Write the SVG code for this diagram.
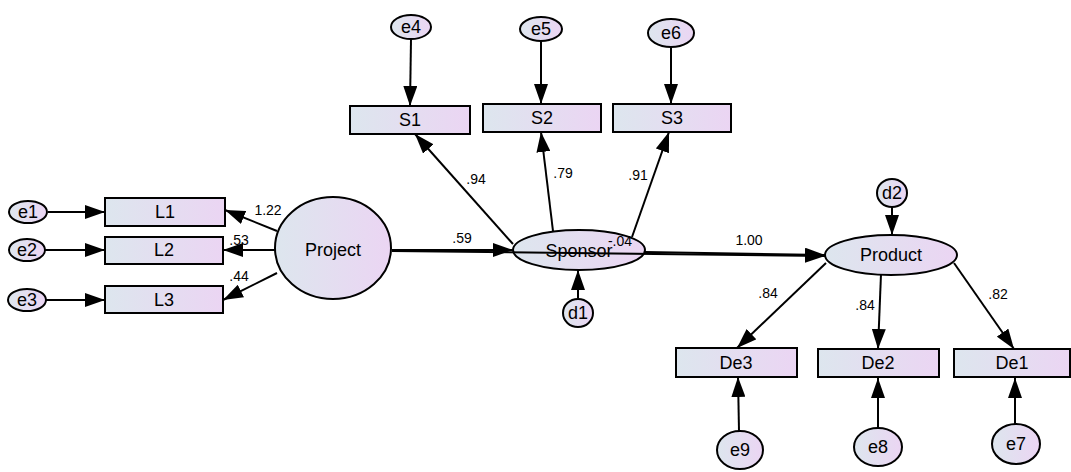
<svg xmlns="http://www.w3.org/2000/svg" width="1071" height="472" viewBox="0 0 1071 472">
<style>
.n{fill:url(#g);stroke:#000;stroke-width:2}
.t{font-family:"Liberation Sans",Arial,sans-serif;font-size:18px;fill:#000;text-anchor:middle;dominant-baseline:central}
.l{font-family:"Liberation Sans",Arial,sans-serif;font-size:14px;fill:#000;text-anchor:middle}
.c line{stroke:#000;stroke-width:2;fill:none}
</style>
<defs>
<linearGradient id="g" x1="0" y1="0" x2="1" y2="0">
<stop offset="0" stop-color="#dde6ee"/>
<stop offset="1" stop-color="#ebd5f3"/>
</linearGradient>
<marker id="a" viewBox="0 0 20 14" refX="20" refY="7" markerWidth="20" markerHeight="14" markerUnits="userSpaceOnUse" orient="auto">
<path d="M0,0 L20,7 L0,14 z" fill="#000"/>
</marker>
</defs>
<rect width="1071" height="472" fill="#fff"/>
<g id="connectors" class="c">
<line x1="48" y1="212" x2="105" y2="212" marker-end="url(#a)"/>
<line x1="45" y1="250" x2="105" y2="250" marker-end="url(#a)"/>
<line x1="46" y1="300" x2="105" y2="300" marker-end="url(#a)"/>
<line x1="277" y1="231" x2="225" y2="210" marker-end="url(#a)"/>
<line x1="275" y1="250" x2="223" y2="250" marker-end="url(#a)"/>
<line x1="277" y1="273" x2="223" y2="300" marker-end="url(#a)"/>
<line x1="411" y1="39" x2="410" y2="106" marker-end="url(#a)"/>
<line x1="541" y1="41" x2="541" y2="104" marker-end="url(#a)"/>
<line x1="671" y1="47" x2="671" y2="104" marker-end="url(#a)"/>
<line x1="513" y1="244" x2="415" y2="134" marker-end="url(#a)"/>
<line x1="553" y1="231" x2="541" y2="132" marker-end="url(#a)"/>
<line x1="632" y1="237" x2="669" y2="132" marker-end="url(#a)"/>
<line x1="392" y1="250" x2="513" y2="250" marker-end="url(#a)"/>
<line x1="578" y1="298" x2="578" y2="270" marker-end="url(#a)"/>
<line x1="645" y1="252" x2="825" y2="255" marker-end="url(#a)"/>
<line x1="892" y1="207" x2="892" y2="235" marker-end="url(#a)"/>
<line x1="826" y1="263" x2="737" y2="348" marker-end="url(#a)"/>
<line x1="881" y1="274" x2="878" y2="349" marker-end="url(#a)"/>
<line x1="954" y1="263" x2="1014" y2="349" marker-end="url(#a)"/>
<line x1="739" y1="431" x2="738" y2="377" marker-end="url(#a)"/>
<line x1="878" y1="428" x2="878" y2="378" marker-end="url(#a)"/>
<line x1="1015" y1="424" x2="1015" y2="378" marker-end="url(#a)"/>
</g>
<g id="e1"><ellipse class="n" cx="28" cy="212" rx="19" ry="11"/><text class="t" x="28" y="212">e1</text></g>
<g id="e2"><ellipse class="n" cx="27" cy="250" rx="18" ry="11"/><text class="t" x="27" y="250">e2</text></g>
<g id="e3"><ellipse class="n" cx="27" cy="300" rx="19" ry="11"/><text class="t" x="27" y="300">e3</text></g>
<g id="L1"><rect class="n" x="105" y="198" width="120" height="28"/><text class="t" x="165" y="212">L1</text></g>
<g id="L2"><rect class="n" x="105" y="237" width="118" height="27"/><text class="t" x="164" y="250">L2</text></g>
<g id="L3"><rect class="n" x="105" y="286" width="118" height="27"/><text class="t" x="164" y="300">L3</text></g>
<g id="Project"><ellipse class="n" cx="333" cy="248" rx="58" ry="51"/><text class="t" x="333" y="250">Project</text></g>
<g id="e4"><ellipse class="n" cx="411" cy="27" rx="20" ry="12"/><text class="t" x="411" y="27">e4</text></g>
<g id="e5"><ellipse class="n" cx="541" cy="29" rx="21" ry="12"/><text class="t" x="541" y="29">e5</text></g>
<g id="e6"><ellipse class="n" cx="671" cy="33" rx="23" ry="14"/><text class="t" x="671" y="33">e6</text></g>
<g id="S1"><rect class="n" x="350" y="106" width="120" height="28"/><text class="t" x="410" y="120">S1</text></g>
<g id="S2"><rect class="n" x="483" y="104" width="118" height="28"/><text class="t" x="542" y="118">S2</text></g>
<g id="S3"><rect class="n" x="613" y="104" width="118" height="28"/><text class="t" x="672" y="118">S3</text></g>
<g id="Sponsor"><ellipse class="n" cx="579" cy="250" rx="66" ry="20"/><text class="t" x="579" y="251">Sponsor</text></g>
<g id="d1"><ellipse class="n" cx="578" cy="313" rx="15" ry="14"/><text class="t" x="578" y="313">d1</text></g>
<g id="d2"><ellipse class="n" cx="892" cy="193" rx="15" ry="14"/><text class="t" x="892" y="193">d2</text></g>
<g id="Product"><ellipse class="n" cx="891" cy="255" rx="66" ry="20"/><text class="t" x="891" y="255">Product</text></g>
<g id="De3"><rect class="n" x="676" y="348" width="121" height="29"/><text class="t" x="736" y="363">De3</text></g>
<g id="De2"><rect class="n" x="818" y="349" width="121" height="28"/><text class="t" x="878" y="363">De2</text></g>
<g id="De1"><rect class="n" x="954" y="349" width="116" height="28"/><text class="t" x="1012" y="363">De1</text></g>
<g id="e9"><ellipse class="n" cx="740" cy="450" rx="23" ry="19"/><text class="t" x="740" y="450">e9</text></g>
<g id="e8"><ellipse class="n" cx="878" cy="447" rx="24" ry="19"/><text class="t" x="878" y="447">e8</text></g>
<g id="e7"><ellipse class="n" cx="1016" cy="444" rx="24" ry="20"/><text class="t" x="1016" y="444">e7</text></g>
<g id="Project_Product_path" class="c"><line x1="392" y1="251" x2="825" y2="256" marker-end="url(#a)"/></g>
<g id="labels">
<text class="l" x="268" y="215">1.22</text>
<text class="l" x="239" y="245">.53</text>
<text class="l" x="239" y="281">.44</text>
<text class="l" x="476" y="184">.94</text>
<text class="l" x="563" y="178">.79</text>
<text class="l" x="638" y="180">.91</text>
<text class="l" x="462" y="243">.59</text>
<text class="l" x="620" y="246">-.04</text>
<text class="l" x="749" y="245">1.00</text>
<text class="l" x="768" y="298">.84</text>
<text class="l" x="865" y="310">.84</text>
<text class="l" x="998" y="299">.82</text>
</g>
</svg>
